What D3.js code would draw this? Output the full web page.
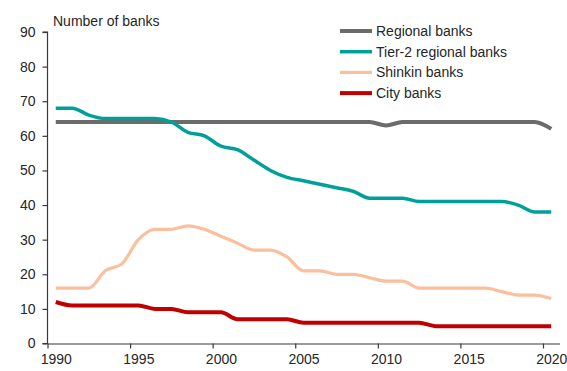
<!DOCTYPE html>
<html>
<head>
<meta charset="utf-8">
<script src="https://cdn.jsdelivr.net/npm/d3@7"></script>
<style>
  html, body { margin: 0; padding: 0; background: #fff; }
  svg { display: block; font-family: "Liberation Sans", Arial, sans-serif; }
</style>
</head>
<body>
<svg id="chart" width="567" height="371"></svg>
<script>
// Number of banks in Japan by type, 1990-2020
const years = d3.range(1990, 2021);
const regionalBanks = [64,64,64,64,64,64,64,64,64,64,64,64,64,64,64,64,64,64,64,64,63,64,64,64,64,64,64,64,64,64,62];
const tier2Banks    = [68,68,66,65,65,65,65,64,61,60,57,56,53,50,48,47,46,45,44,42,42,42,41,41,41,41,41,41,40,38,38];
const shinkinBanks  = [16,16,16,21,23,30,33,33,34,33,31,29,27,27,25,21,21,20,20,19,18,18,16,16,16,16,16,15,14,14,13];
const cityBanks     = [12,11,11,11,11,11,10,10,9,9,9,7,7,7,7,6,6,6,6,6,6,6,6,5,5,5,5,5,5,5,5];
const seriesNames   = ["Regional banks", "Tier-2 regional banks", "Shinkin banks", "City banks"];
const seriesColors  = ["#6b6b6b", "#00a09a", "#fbbf9e", "#c00000"];
const seriesWidths  = [4, 3.5, 3.2, 4];
const yTicks = [0, 10, 20, 30, 40, 50, 60, 70, 80, 90];
const xTicks = [1990, 1995, 2000, 2005, 2010, 2015, 2020];

const seriesValues = [regionalBanks, tier2Banks, shinkinBanks, cityBanks];

const svg = d3.select("#chart");
const plotLeft = 47.5, plotRight = 559.5, plotTop = 32, plotBottom = 343.5;

// each year's value sits in the middle of its year slot
const x = d3.scaleLinear().domain([1990, 2021]).range([plotLeft, plotRight]);
const y = d3.scaleLinear().domain([0, 90]).range([plotBottom, plotTop]);

const textColor = "#262626";
const axisColor = "#3a3a3a";

// y axis
const yAxis = svg.append("g")
  .attr("transform", `translate(${plotLeft},0)`)
  .call(d3.axisLeft(y).tickValues(yTicks).tickSize(5).tickPadding(7));
// x axis: tick marks at year boundaries, labels centred on the year
const xAxis = svg.append("g")
  .attr("transform", `translate(0,${plotBottom})`)
  .call(d3.axisBottom(x).tickValues(xTicks).tickFormat(d3.format("d")).tickSize(5).tickPadding(6).tickSizeOuter(0));
xAxis.selectAll(".tick text").attr("dx", (x(1990.5) - x(1990)));

[yAxis, xAxis].forEach(g => {
  g.select(".domain").attr("stroke", axisColor).attr("stroke-width", 1.2);
  g.selectAll(".tick line").attr("stroke", axisColor).attr("stroke-width", 1.2);
  g.selectAll(".tick text").attr("fill", textColor).style("font-size", "14px")
    .style("font-family", '"Liberation Sans", Arial, sans-serif');
});
yAxis.select(".domain").attr("d", `M-5,${plotBottom}H0V${plotTop}H-5`);

// y axis title
svg.append("text")
  .attr("x", 53).attr("y", 26)
  .attr("fill", textColor).style("font-size", "14px")
  .text("Number of banks");

// lines
const line = d3.line()
  .x((d, i) => x(years[i] + 0.5))
  .y(d => y(d))
  .curve(d3.curveMonotoneX);

svg.append("g").selectAll("path")
  .data(seriesValues)
  .join("path")
  .attr("d", d => line(d))
  .attr("fill", "none")
  .attr("stroke", (d, i) => seriesColors[i])
  .attr("stroke-width", (d, i) => seriesWidths[i])
  .attr("stroke-linejoin", "round")
  .attr("stroke-linecap", "butt");

// legend
const legend = svg.append("g").attr("transform", "translate(340,31)");
const rows = legend.selectAll("g").data(seriesNames).join("g")
  .attr("transform", (d, i) => `translate(0,${i * 20.7})`);
rows.append("line")
  .attr("x1", 0).attr("x2", 32).attr("y1", 0).attr("y2", 0)
  .attr("stroke", (d, i) => seriesColors[i])
  .attr("stroke-width", (d, i) => seriesWidths[i]);
rows.append("text")
  .attr("x", 36).attr("y", 0).attr("dy", "0.35em")
  .attr("fill", textColor).style("font-size", "14px")
  .text(d => d);
</script>
</body>
</html>
